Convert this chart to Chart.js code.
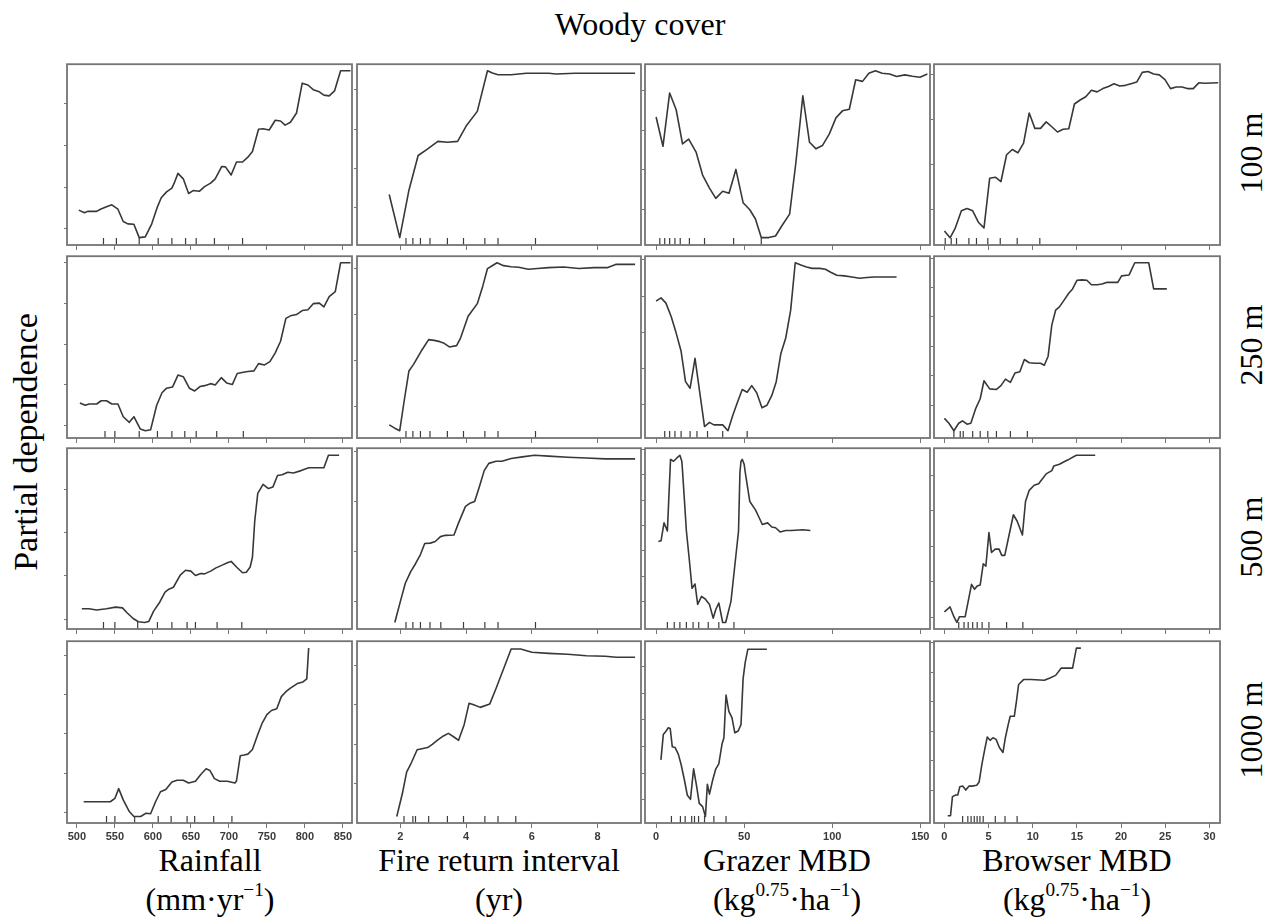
<!DOCTYPE html>
<html><head><meta charset="utf-8">
<script src="https://cdn.jsdelivr.net/npm/chart.js@4.4.1/dist/chart.umd.min.js"></script>
<style>
html,body{margin:0;padding:0;background:#fff;}
body{width:1274px;height:918px;position:relative;overflow:hidden;font-family:"Liberation Serif","Times New Roman",serif;color:#000;}
.lbl{position:absolute;font-size:32px;line-height:32px;white-space:nowrap;text-align:center;}
.rot{transform:translate(-50%,-50%) rotate(-90deg);}
sup{font-size:0.6em;line-height:0;vertical-align:0.75em;}
canvas{position:absolute;}
</style></head><body>
<div class="lbl" style="left:490px;width:300px;top:8px;">Woody cover</div>
<div class="lbl rot" style="left:26px;top:442px;font-size:34px;">Partial dependence</div>
<div class="lbl rot" style="left:1251px;top:153px;">100 m</div>
<div class="lbl rot" style="left:1251px;top:345px;">250 m</div>
<div class="lbl rot" style="left:1251px;top:537px;">500 m</div>
<div class="lbl rot" style="left:1251px;top:730px;">1000 m</div>
<div class="lbl" style="left:60px;width:300px;top:844px;">Rainfall</div>
<div class="lbl" style="left:60px;width:300px;top:883px;">(mm·yr<sup>−1</sup>)</div>
<div class="lbl" style="left:349px;width:300px;top:844px;">Fire return interval</div>
<div class="lbl" style="left:349px;width:300px;top:883px;">(yr)</div>
<div class="lbl" style="left:637px;width:300px;top:844px;">Grazer MBD</div>
<div class="lbl" style="left:637px;width:300px;top:883px;">(kg<sup>0.75</sup>·ha<sup>−1</sup>)</div>
<div class="lbl" style="left:927px;width:300px;top:844px;">Browser MBD</div>
<div class="lbl" style="left:927px;width:300px;top:883px;">(kg<sup>0.75</sup>·ha<sup>−1</sup>)</div>
<script>
// ---------- data (y = partial dependence, as % of each panel's range) ----------
const rainTicks = [500,550,600,650,700,750,800,850];
const fireTicks = [2,4,6,8];
const grazTicks = [0,50,100,150];
const browTicks = [0,5,10,15,20,25,30];
const rainRange = [487,862];
const fireRange = [0.68,9.32];
const grazRange = [-6.3,155.5];
const browRange = [-1.18,31.2];

// 100 m
const rain100X = [502.5,510,514,526,531,539,546,554,561,567,575,582,590,598.5,606,611,618,625,628,633,640,647,653,661,668,676,682,690.5,695.5,703,710,718,725,731,739,745,753,761,768,774,781,789,796.5,804,811,819,825,832,839,847,860];
const rain100Y = [19.3,17.8,18.6,18.6,19.8,21.1,22.2,19.8,13.0,11.7,11.5,4.1,4.5,11.7,21.1,26.1,29.4,31.5,34.2,39.6,36.6,28.5,30.1,29.7,32.3,34.2,36.6,43.4,43.2,38.7,45.9,45.9,48.6,51.7,64.0,64.3,63.6,69.0,68.6,66.3,67.9,73.0,89.5,88.5,85.9,84.7,82.9,82.5,85.2,96.4,96.4];
const rain100Rug = [535,552,582,607,625,643,657,681,718];
const fire100X = [1.66,1.98,2.26,2.54,2.8,3.14,3.43,3.74,4.0,4.34,4.65,4.8,4.97,5.37,5.83,6.51,6.74,7.31,9.14];
const fire100Y = [27.9,4.1,30.3,49.5,52.8,57.3,56.8,57.3,65.8,73.9,96.4,95.1,94.2,94.2,95.0,95.0,94.6,95.0,95.0];
const fire100Rug = [2.17,2.38,2.61,2.9,3.43,3.92,4.57,4.97,6.11];
const graz100X = [0,3.9,7.7,11.4,15.0,18.5,22.7,26.4,30.3,33.9,37.8,41.4,45.3,49.4,53.2,56.4,59.7,64.0,67.8,71.5,75.8,79.4,83.3,87.1,90.8,94.4,98.3,102.1,105.8,109.7,113.3,117.2,120.8,124.5,128.3,132.6,136.5,141.2,145.5,149.8,154];
const graz100Y = [70.8,54.6,84.1,74.8,55.9,58.6,51.4,38.7,31.5,25.8,29.7,28.6,41.8,23.4,19.5,14.4,4.1,4.1,5.0,10.8,17.1,45.9,82.5,56.8,53.2,55.0,61.3,70.3,74.2,75.1,91.4,90.5,95.0,96.4,95.0,94.6,93.2,94.1,93.3,92.8,94.6];
const graz100Rug = [2.1,4.9,7.7,10.7,13.7,18.9,27.5,44,59.7];
const brow100X = [0,0.64,1.2,1.92,2.56,3.2,3.84,4.48,5.12,5.76,6.4,7.04,7.68,8.32,8.96,9.6,10.24,10.88,11.52,12.16,12.8,13.44,14.08,14.72,15.36,16.0,16.64,17.29,17.93,18.57,19.2,19.85,20.49,21.13,21.77,22.4,23.05,23.69,24.33,24.97,25.6,26.25,26.9,27.5,28.17,28.8,29.45,31.0];
const brow100Y = [7.7,4.0,9.0,18.9,20.2,18.9,12.6,9.5,36.9,37.5,35.1,49.9,52.8,51.0,56.4,73.0,64.5,64.5,68.1,65.4,62.5,64.0,64.3,78.0,80.2,82.0,85.6,84.7,86.5,87.7,89.2,87.9,88.3,89.2,90.1,95.5,96.0,94.6,94.1,91.5,86.5,87.4,87.4,86.5,86.5,89.7,89.5,89.7];
const brow100Rug = [0.09,0.77,1.37,2.77,3.63,4.91,6.32,8.24,10.8];

// 250 m
const rain250X = [504,511,516,526,532,539,546,554,561,569,575,583.5,590,597,605,612,618,626,633,640,648,655,662,668,676,682,690,697,704.5,711,719,725,733,739,747,754,761,768,775,781,789,796.5,804,811,819,825,832,840,847,860];
const rain250Y = [19.3,18.0,18.7,18.7,20.5,20.5,18.7,18.7,11.7,8.6,11.7,4.9,4.0,4.5,18.0,24.9,27.4,28.1,34.6,33.7,27.4,25.9,28.3,28.8,29.9,29.2,33.2,30.3,29.4,35.5,36.2,36.6,36.9,40.9,40.2,42.0,46.8,53.2,65.8,67.2,67.9,70.1,70.5,73.9,74.2,72.1,77.8,80.5,96.4,96.4];
const rain250Rug = [537,550,582,606,625,642,657,684,719];
const fire250X = [1.66,1.83,1.98,2.11,2.26,2.4,2.63,2.86,3.03,3.2,3.31,3.49,3.71,3.83,4.06,4.34,4.51,4.65,4.78,4.94,5.14,5.37,5.6,5.89,6.17,6.51,6.97,7.43,7.89,8.29,8.55,9.14];
const fire250Y = [7.2,5.4,4.0,19.8,36.9,40.5,47.7,54.1,53.7,53.0,52.3,50.1,50.8,55.0,67.0,73.9,83.8,93.2,94.6,96.4,94.8,94.2,93.9,92.8,93.2,93.7,94.1,93.2,93.7,93.7,95.5,95.5];
const fire250Rug = [2.17,2.38,2.61,2.9,3.43,3.92,4.57,4.97,6.11];
const graz250X = [0,2.8,5.6,8.6,11.4,14.2,16.7,19.3,22.1,24.9,27.5,30.3,32.8,37.8,40.8,43.6,46.4,48.9,51.7,54.3,57.1,60.1,62.9,65.7,68.2,70.8,73.6,76.4,79.0,82.2,85.4,88.6,92.9,96.1,99.4,102.6,106.9,111.2,115.5,119.7,124.0,136.5];
const graz250Y = [75.3,77.1,74.2,66.7,57.7,47.7,31.0,27.4,43.8,24.3,6.3,8.6,7.2,7.2,4.0,12.6,20.2,26.7,25.2,28.8,24.9,16.6,18.0,23.4,31.0,46.3,55.0,70.3,96.4,95.1,94.1,93.3,93.3,92.8,91.0,89.5,89.2,88.6,87.9,88.3,88.6,88.6];
const graz250Rug = [4.9,7.7,10.7,14.2,19.3,23.2,29.2,37.8,51.7];
const brow250X = [0,0.51,1.07,1.62,2.05,2.56,2.99,3.54,4.05,4.48,5.12,5.89,6.4,6.91,7.47,7.98,8.54,9.05,9.6,10.24,10.88,11.31,11.74,12.16,12.59,13.02,13.57,14.08,14.51,15.02,15.58,16.13,16.64,17.29,17.84,18.35,18.99,19.63,20.06,20.91,21.55,23.13,23.69,25.18];
const brow250Y = [10.8,8.1,4.0,8.1,9.4,7.6,8.1,16.2,21.6,31.5,27.0,26.7,28.8,32.4,30.6,35.7,36.4,43.2,41.4,41.1,41.1,40.0,45.0,62.2,70.3,72.1,76.0,79.6,82.0,86.8,87.0,86.8,84.3,84.3,84.7,85.6,85.6,85.6,89.2,89.7,96.4,96.4,82.0,82.0];
const brow250Rug = [1.07,1.79,2.13,3.2,4.05,4.91,5.89,7.47,9.39];

// 500 m
const rain500X = [506.5,516,526,539,551,560,566,574,581,589,594.5,601,609,616,621,627,636,643,650,656,663,668,676,683,690.5,698,703,710,718,723,728,731,734,738,745,752,758,764,770,777.6,785,795,805,825,831,845];
const rain500Y = [11.2,11.2,10.5,11.2,12.1,11.7,9.0,5.8,4.0,3.6,4.1,9.9,14.8,20.4,22.0,23.1,29.8,32.5,32.0,29.6,30.7,30.5,32.0,33.8,35.2,36.6,37.4,34.3,31.1,31.4,34.3,39.7,59.6,75.0,80.0,77.7,78.6,84.9,85.3,86.7,86.3,87.6,89.2,89.2,96.1,96.1];
const rain500Rug = [535,550,580,606,625,645,656,684.5,717];
const fire500X = [1.83,2.0,2.15,2.31,2.46,2.61,2.74,2.91,3.06,3.22,3.37,3.63,3.77,3.98,4.11,4.26,4.4,4.55,4.69,4.91,5.09,5.37,5.71,6.08,6.51,7.09,7.66,8.23,9.14];
const fire500Y = [3.6,15.3,25.3,31.6,36.1,41.2,47.3,47.5,48.4,51.1,51.8,52.0,58.7,67.8,69.5,70.5,78.6,87.6,91.6,92.8,92.8,94.3,95.2,96.1,95.6,95.0,94.6,94.1,94.1];
const fire500Rug = [2.17,2.38,2.61,2.9,3.23,3.92,4.57,4.97,6.11];
const graz500X = [1.3,2.8,4.5,6.4,8.2,9.9,11.8,13.5,14.6,15.0,17.2,18.9,20.4,22.1,23.6,25.8,27.9,30.3,32.4,33.9,35.6,37.8,39.5,42.5,44.6,46.8,47.6,48.2,48.9,50.0,50.6,53.2,56.4,58.6,60.3,63.3,65.7,67.8,70.4,73.6,76.8,83.3,87.6];
const graz500Y = [48.4,48.8,58.7,54.2,93.8,92.8,94.6,96.1,92.8,87.6,54.2,37.9,22.5,24.9,13.6,18.0,16.6,13.6,6.0,10.8,14.4,3.6,3.6,15.3,34.3,54.2,86.7,92.8,93.8,91.1,86.7,70.5,65.9,61.4,57.8,58.7,56.4,56.0,53.7,54.5,54.5,54.9,54.5];
const graz500Rug = [6.4,10.3,13.5,17.2,21.0,24.2,29.6,35.6,44.2];
const brow500X = [0,0.64,1.07,1.41,1.71,2.35,2.69,3.07,3.41,3.71,4.05,4.4,4.69,5.04,5.33,5.76,6.19,6.49,6.83,7.26,7.81,8.24,8.83,9.18,9.6,10.16,10.67,11.1,11.52,12.16,12.38,13.02,13.66,14.08,14.94,17.07];
const brow500Y = [9.5,12.2,6.8,3.6,6.8,6.8,15.3,24.7,22.0,23.8,24.4,36.1,34.7,53.3,42.4,44.2,44.2,40.7,40.7,50.6,63.2,59.6,52.0,70.5,76.7,79.5,80.4,83.1,85.8,87.6,90.1,91.1,92.8,93.8,96.1,96.1];
const brow500Rug = [1.62,2.22,2.69,3.2,3.71,4.27,5.04,7.04,8.88];

// 1000 m
const rain1000X = [509,544,550,555,561,569,575,584,591,597,603.5,610,617,625,632,640,647,656,663,670,675,681,688,698,708,710,715,720,725,731,738,744,750,756,763,769,775,781,790,797.5,802.5,805];
const rain1000Y = [11.7,11.7,13.5,18.9,12.7,6.3,3.6,3.6,5.4,5.1,11.7,17.2,18.4,22.6,23.5,23.5,22.0,23.0,26.7,29.8,28.9,24.4,23.0,23.0,22.0,23.1,37.0,37.4,37.9,40.4,48.7,55.1,59.6,61.9,62.8,69.5,72.2,74.2,76.7,77.6,79.3,96.3];
const rain1000Rug = [539,550,576,607,624,645,655,680,704];
const fire1000X = [1.89,2.06,2.19,2.34,2.51,2.69,2.83,2.97,3.14,3.31,3.46,3.63,3.77,3.94,4.09,4.23,4.43,4.72,4.91,5.14,5.37,5.66,6.0,6.51,7.09,7.66,8.23,8.57,9.14];
const fire1000Y = [3.6,16.2,28.0,33.4,40.3,41.0,41.5,43.3,45.7,47.9,49.3,47.3,45.5,54.1,65.9,65.0,63.6,65.5,74.0,84.8,95.7,95.7,93.9,93.3,92.8,92.0,91.7,91.2,91.2];
const fire1000Rug = [2.11,2.38,2.46,2.86,3.43,3.92,4.57,4.97,5.51];
const graz1000X = [2.75,4.1,5.7,6.9,8.0,9.2,10.8,12.6,14.2,16.1,17.7,19.5,21.3,22.9,24.5,26.4,28.0,29.1,30.3,32.1,33.9,35.6,37.4,38.5,39.7,41.3,43.1,44.7,46.6,48.2,49.4,50.6,52.1,62.9];
const graz1000Y = [34.7,48.7,50.6,52.4,52.0,41.9,41.5,37.9,32.2,23.5,15.4,13.0,29.8,20.8,10.8,9.0,3.6,21.3,15.9,23.5,29.8,32.5,43.3,46.9,70.4,61.4,57.8,49.6,50.6,54.1,79.4,88.4,95.6,95.6];
const graz1000Rug = [8.7,13.8,16.5,20.2,21.8,24.1,27.5,32.8,39.7];
const brow1000X = [0.37,0.69,0.91,1.28,1.51,1.74,2.06,2.42,2.79,3.11,3.66,3.93,4.25,4.57,4.85,5.17,5.49,5.85,6.22,6.63,6.9,7.22,7.45,7.91,8.15,8.4,8.96,9.82,11.31,11.95,12.59,13.23,14.51,14.94,15.45];
const brow1000Y = [4.0,4.0,14.5,15.4,15.4,19.9,20.3,18.1,20.3,20.3,20.8,22.6,32.5,40.6,47.3,45.5,46.9,46.0,41.5,38.8,46.9,54.1,58.7,58.7,66.8,76.2,78.9,78.9,78.5,79.8,81.2,85.2,85.2,96.2,96.2];
const brow1000Rug = [2.06,2.65,3.02,3.38,3.7,4.02,4.39,5.76,6.86,8.23];

// y tick marks (first, step) in % of panel
const yTickSpec = [
  [[9.0,23],[20.7,21.7],[19.8,21.9],[19.8,24.9]],
  [[6.8,22.4],[17.1,25.3],[18.4,19.9],[18.0,16.2]],
  [[5.4,24],[15.3,27.6],[15.3,14],[6.3,19.7]],
  [[5.8,21.6],[21.7,21.7],[12.7,14.7],[18.1,16.2]]
];

// ---------- layout ----------
const COL_L = [67,357,645,934], COL_R = [352,641,930,1220];
const ROW_T = [61,253,445,638], ROW_B = [245,438,629,823];
const PADL = 16, PADR = 14, PADT = 2;
const colCfg = [
  {range: rainRange, ticks: rainTicks},
  {range: fireRange, ticks: fireTicks},
  {range: grazRange, ticks: grazTicks},
  {range: browRange, ticks: browTicks}
];
const series = [
  [[rain100X,rain100Y,rain100Rug],[fire100X,fire100Y,fire100Rug],[graz100X,graz100Y,graz100Rug],[brow100X,brow100Y,brow100Rug]],
  [[rain250X,rain250Y,rain250Rug],[fire250X,fire250Y,fire250Rug],[graz250X,graz250Y,graz250Rug],[brow250X,brow250Y,brow250Rug]],
  [[rain500X,rain500Y,rain500Rug],[fire500X,fire500Y,fire500Rug],[graz500X,graz500Y,graz500Rug],[brow500X,brow500Y,brow500Rug]],
  [[rain1000X,rain1000Y,rain1000Rug],[fire1000X,fire1000Y,fire1000Rug],[graz1000X,graz1000Y,graz1000Rug],[brow1000X,brow1000Y,brow1000Rug]]
];

const framePlugin = {
  id: 'frame',
  afterDraw(chart) {
    const a = chart.chartArea, ctx = chart.ctx;
    ctx.save();
    ctx.strokeStyle = '#747474';
    ctx.lineWidth = 1.8;
    ctx.strokeRect(a.left, a.top, a.right - a.left, a.bottom - a.top);
    ctx.restore();
  }
};

for (let r = 0; r < 4; r++) {
  for (let c = 0; c < 4; c++) {
    const [xs, ys, rug] = series[r][c];
    const cfg = colCfg[c];
    const bottomRow = r === 3;
    const xAxisH = bottomRow ? 22 : 7;
    const w = COL_R[c] - COL_L[c];
    const h = ROW_B[r] - ROW_T[r];
    const cv = document.createElement('canvas');
    const cw = w + PADL + PADR, ch = h + PADT + xAxisH;
    cv.width = cw; cv.height = ch;
    cv.style.left = (COL_L[c] - PADL) + 'px';
    cv.style.top = (ROW_T[r] - PADT) + 'px';
    cv.style.width = cw + 'px'; cv.style.height = ch + 'px';
    document.body.appendChild(cv);
    const [yFirst, yStep] = yTickSpec[r][c];
    const yTickVals = [];
    for (let v = yFirst; v <= 100; v += yStep) yTickVals.push(v);
    const rugY = 3.5 / h * 100;
    new Chart(cv, {
      type: 'scatter',
      data: {
        datasets: [
          {
            data: xs.map((x, i) => ({x: x, y: ys[i]})),
            showLine: true, borderColor: '#383838', borderWidth: 1.6,
            pointRadius: 0, tension: 0, fill: false, borderJoinStyle: 'round'
          },
          {
            data: rug.map(x => ({x: x, y: rugY})),
            showLine: false, pointStyle: 'line', rotation: 90, pointRadius: 3.5,
            borderColor: '#3c3c3c', borderWidth: 1.2, backgroundColor: '#3c3c3c'
          }
        ]
      },
      options: {
        responsive: false, animation: false, devicePixelRatio: 1, events: [],
        layout: {padding: {left: 0, right: PADR, top: PADT, bottom: 0}},
        plugins: {legend: {display: false}, tooltip: {enabled: false}},
        scales: {
          x: {
            type: 'linear', min: cfg.range[0], max: cfg.range[1],
            afterBuildTicks: s => { s.ticks = cfg.ticks.map(v => ({value: v})); },
            afterFit: s => { s.height = xAxisH; },
            ticks: {display: bottomRow, autoSkip: false, maxRotation: 0, padding: 2, color: '#3a3a3a',
              font: {family: '"Liberation Sans Narrow","Liberation Sans",Arial,sans-serif', size: 11, weight: 'bold'}},
            grid: {drawOnChartArea: false, drawTicks: true, tickLength: 5, color: '#777', lineWidth: 1},
            border: {display: false}
          },
          y: {
            type: 'linear', min: 0, max: 100,
            afterBuildTicks: s => { s.ticks = yTickVals.map(v => ({value: v})); },
            afterFit: s => { s.width = PADL; },
            ticks: {display: false},
            grid: {drawOnChartArea: false, drawTicks: true, tickLength: 3, color: '#777', lineWidth: 1},
            border: {display: false}
          }
        }
      },
      plugins: [framePlugin]
    });
  }
}
</script>
</body></html>
